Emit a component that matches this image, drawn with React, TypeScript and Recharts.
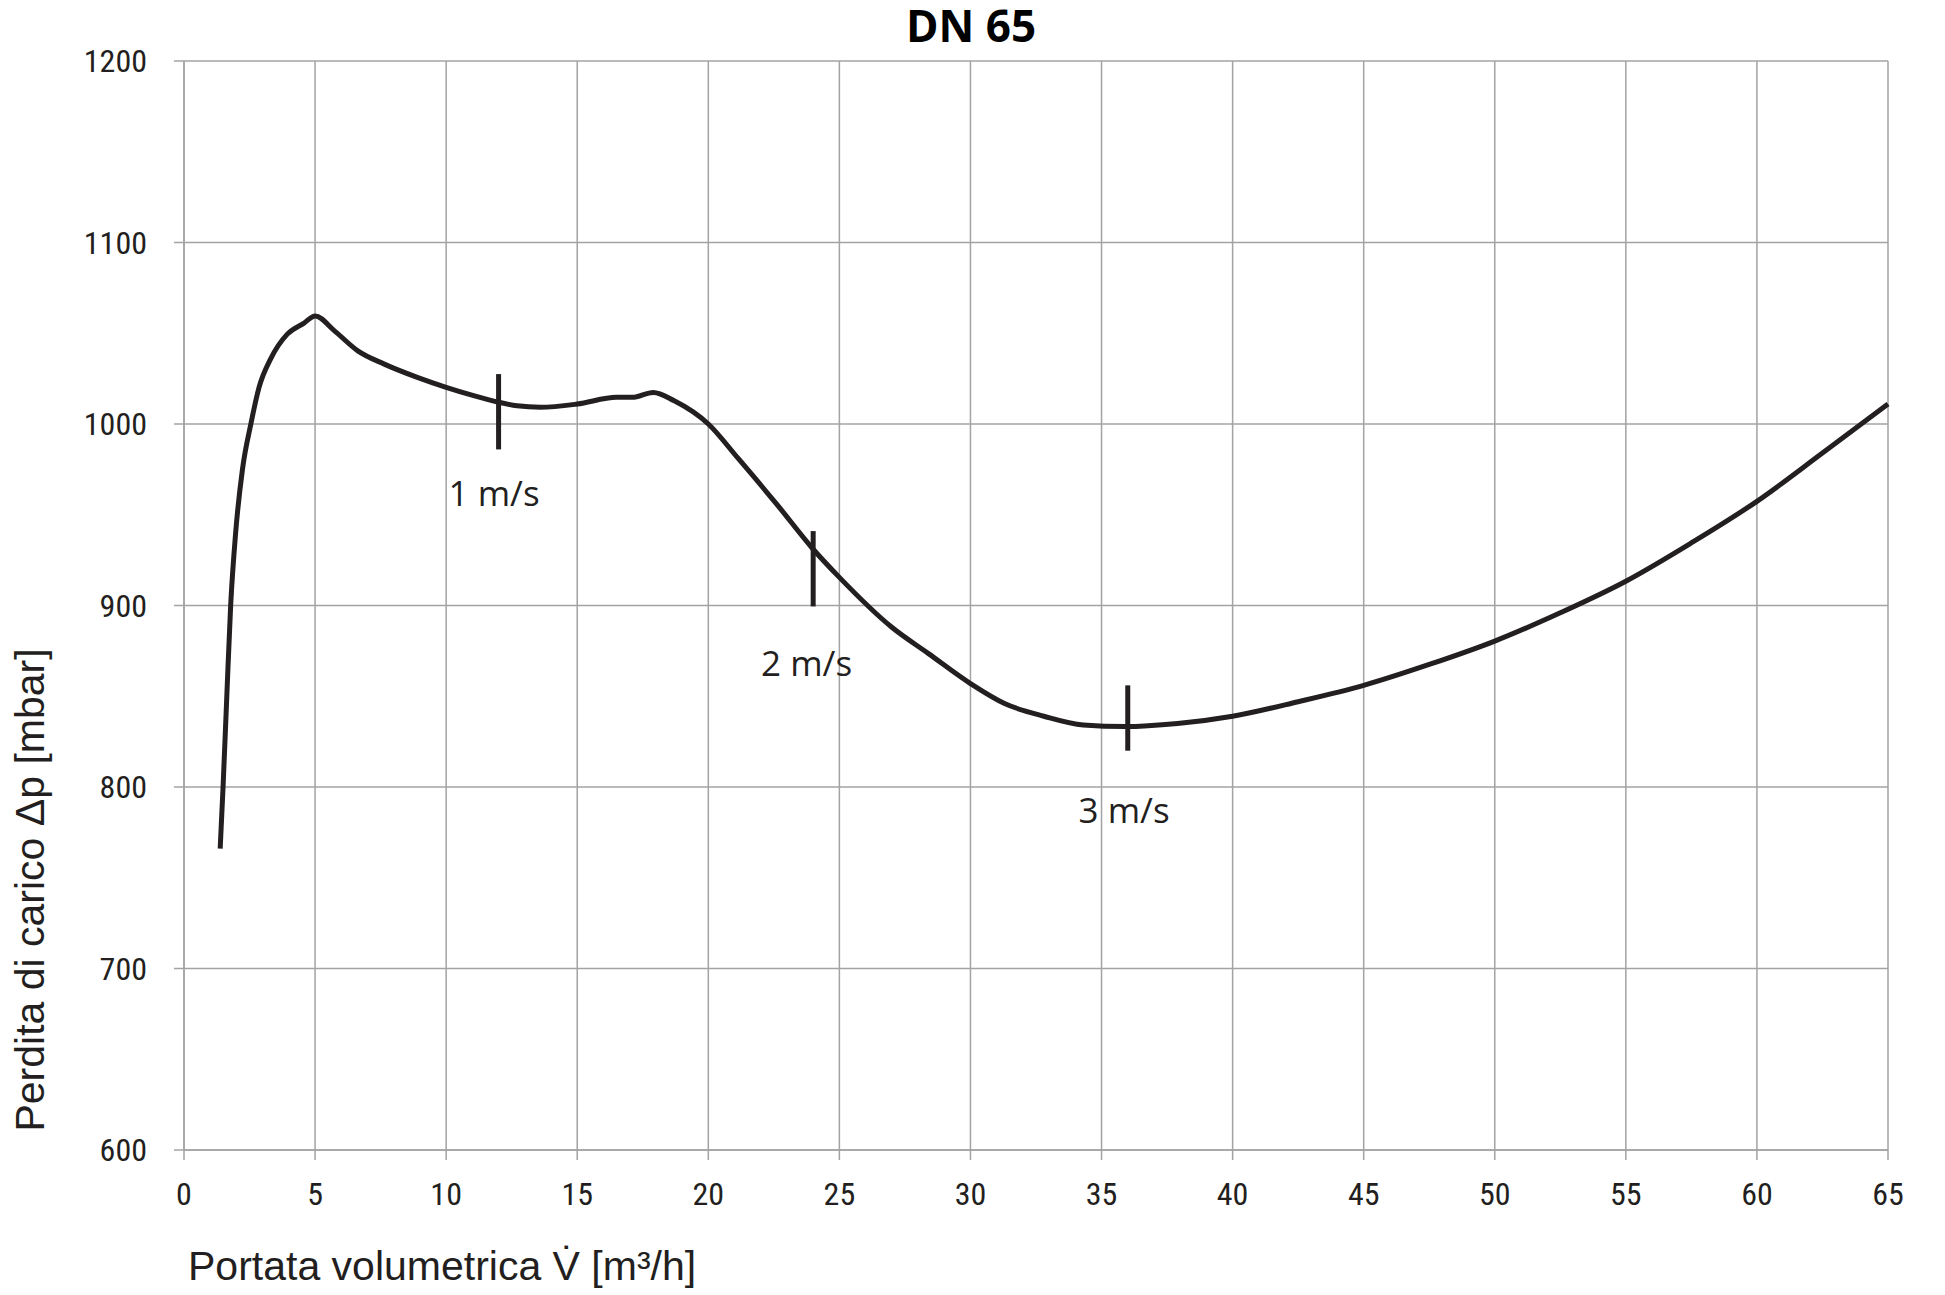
import {
  LineChart,
  Line,
  XAxis,
  YAxis,
  CartesianGrid,
  ReferenceLine,
  ReferenceDot,
} from 'recharts';

// flow rate [m³/h] and pressure loss [mbar]
const flow = [
  1.38, 1.49, 1.63, 1.78, 1.97, 2.23, 2.55, 2.86, 3.31, 3.94, 4.58, 5.0, 5.74, 6.63,
  7.64, 8.9, 10.0, 11.05, 12.0, 12.7, 13.6, 15.0, 16.5, 17.1, 17.9, 18.7, 20.0,
  21.14, 22.6, 24.0, 25.0, 27.0, 28.4, 30.0, 31.3, 32.8, 34.3, 35.9, 37.9, 40.0,
  42.5, 45.0, 47.5, 50.0, 52.5, 55.0, 57.5, 60.0, 62.5, 65.0,
];
const loss = [
  766, 800, 849, 900, 940, 975, 1000, 1020, 1036, 1049.5, 1055.6, 1059.5, 1051.3,
  1040.3, 1033, 1025.7, 1020.2, 1015.6, 1012, 1010, 1009.2, 1011, 1014.7, 1014.7,
  1017.4, 1012.8, 1000, 981, 956, 931, 915.5, 888, 873.5, 857, 846, 839, 834.2,
  833.3, 835, 839, 847, 856, 867.5, 880.4, 896, 913.4, 934.5, 957.4, 984, 1011,
];

const xTicks = [0, 5, 10, 15, 20, 25, 30, 35, 40, 45, 50, 55, 60, 65];
const yTicks = [600, 700, 800, 900, 1000, 1100, 1200];

// velocity markers on the curve
const markFlow = [12, 24, 36];
const markLow = [986, 899.5, 820];
const markHigh = [1027.5, 941, 856];
const markText = ['1 m/s', '2 m/s', '3 m/s'];
const markTextFlow = [11.83, 23.75, 35.86];
const markTextLoss = [961.5, 868, 787];

const data = flow.map((f, i) => ({ flow: f, loss: loss[i] }));

const W = 1930;
const H = 1280;
const ink = '#231f20';
const grid = '#a3a3a3';
const tickFont = '"Liberation Sans Narrow", "Roboto Condensed", "DejaVu Sans Condensed", sans-serif';

const XTitle = (props: any) => {
  const vb = props.viewBox || { x: 176, y: 1142 };
  return (
    <text
      x={vb.x + 4}
      y={vb.y + 130}
      fontFamily='"Liberation Sans", Arial, sans-serif'
      fontSize={41}
      fill={ink}
      textAnchor="start"
    >
      Portata volumetrica V̇ [m³/h]
    </text>
  );
};

const YTitle = (props: any) => {
  const vb = props.viewBox || { x: 0, y: 53 };
  const x = vb.x + 36;
  const y = vb.y + 829;
  return (
    <text
      x={x}
      y={y}
      transform={`rotate(-90, ${x}, ${y})`}
      fontFamily='"Liberation Sans", Arial, sans-serif'
      fontSize={41}
      fill={ink}
      textAnchor="middle"
    >
      Perdita di carico Δp [mbar]
    </text>
  );
};

export default function App() {
  return (
    <div style={{ position: 'relative', width: W, height: H }}>
      <LineChart
        width={W}
        height={H}
        data={data}
        margin={{ top: 53, right: 50, bottom: 0, left: 0 }}
      >
        <CartesianGrid stroke={grid} strokeWidth={1.5} />
        <XAxis
          type="number"
          dataKey="flow"
          domain={[0, 65]}
          ticks={xTicks}
          interval={0}
          height={138}
          tickSize={10}
          tickMargin={22}
          stroke={grid}
          strokeWidth={1.5}
          tick={{ fill: ink, fontSize: 32, fontFamily: tickFont }}
          label={{ content: XTitle }}
        />
        <YAxis
          type="number"
          domain={[600, 1200]}
          ticks={yTicks}
          interval={0}
          width={176}
          tickSize={10}
          tickMargin={27}
          stroke={grid}
          strokeWidth={1.5}
          tick={{ fill: ink, fontSize: 32, fontFamily: tickFont }}
          label={{ content: YTitle }}
        />
        <Line
          type="monotone"
          dataKey="loss"
          stroke={ink}
          strokeWidth={5}
          dot={false}
          activeDot={false}
          isAnimationActive={false}
        />
        {markFlow.map((f, i) => (
          <ReferenceLine
            key={`m-${i}`}
            segment={[
              { x: f, y: markLow[i] },
              { x: f, y: markHigh[i] },
            ]}
            stroke={ink}
            strokeWidth={5}
          />
        ))}
        {markText.map((t, i) => (
          <ReferenceDot
            key={`t-${i}`}
            x={markTextFlow[i]}
            y={markTextLoss[i]}
            r={0}
            fill="none"
            stroke="none"
            label={{
              value: t,
              position: 'center',
              fill: ink,
              fontSize: 35,
              fontFamily: '"Open Sans", sans-serif',
            }}
          />
        ))}
      </LineChart>
      <svg
        width={W}
        height={80}
        style={{ position: 'absolute', left: 0, top: 0, pointerEvents: 'none' }}
      >
        <text
          x={963}
          y={34}
          textAnchor="middle"
          fontFamily='"Open Sans", sans-serif'
          fontWeight={700}
          fontSize={44}
          fill="#000"
        >
          DN 65
        </text>
      </svg>
    </div>
  );
}
